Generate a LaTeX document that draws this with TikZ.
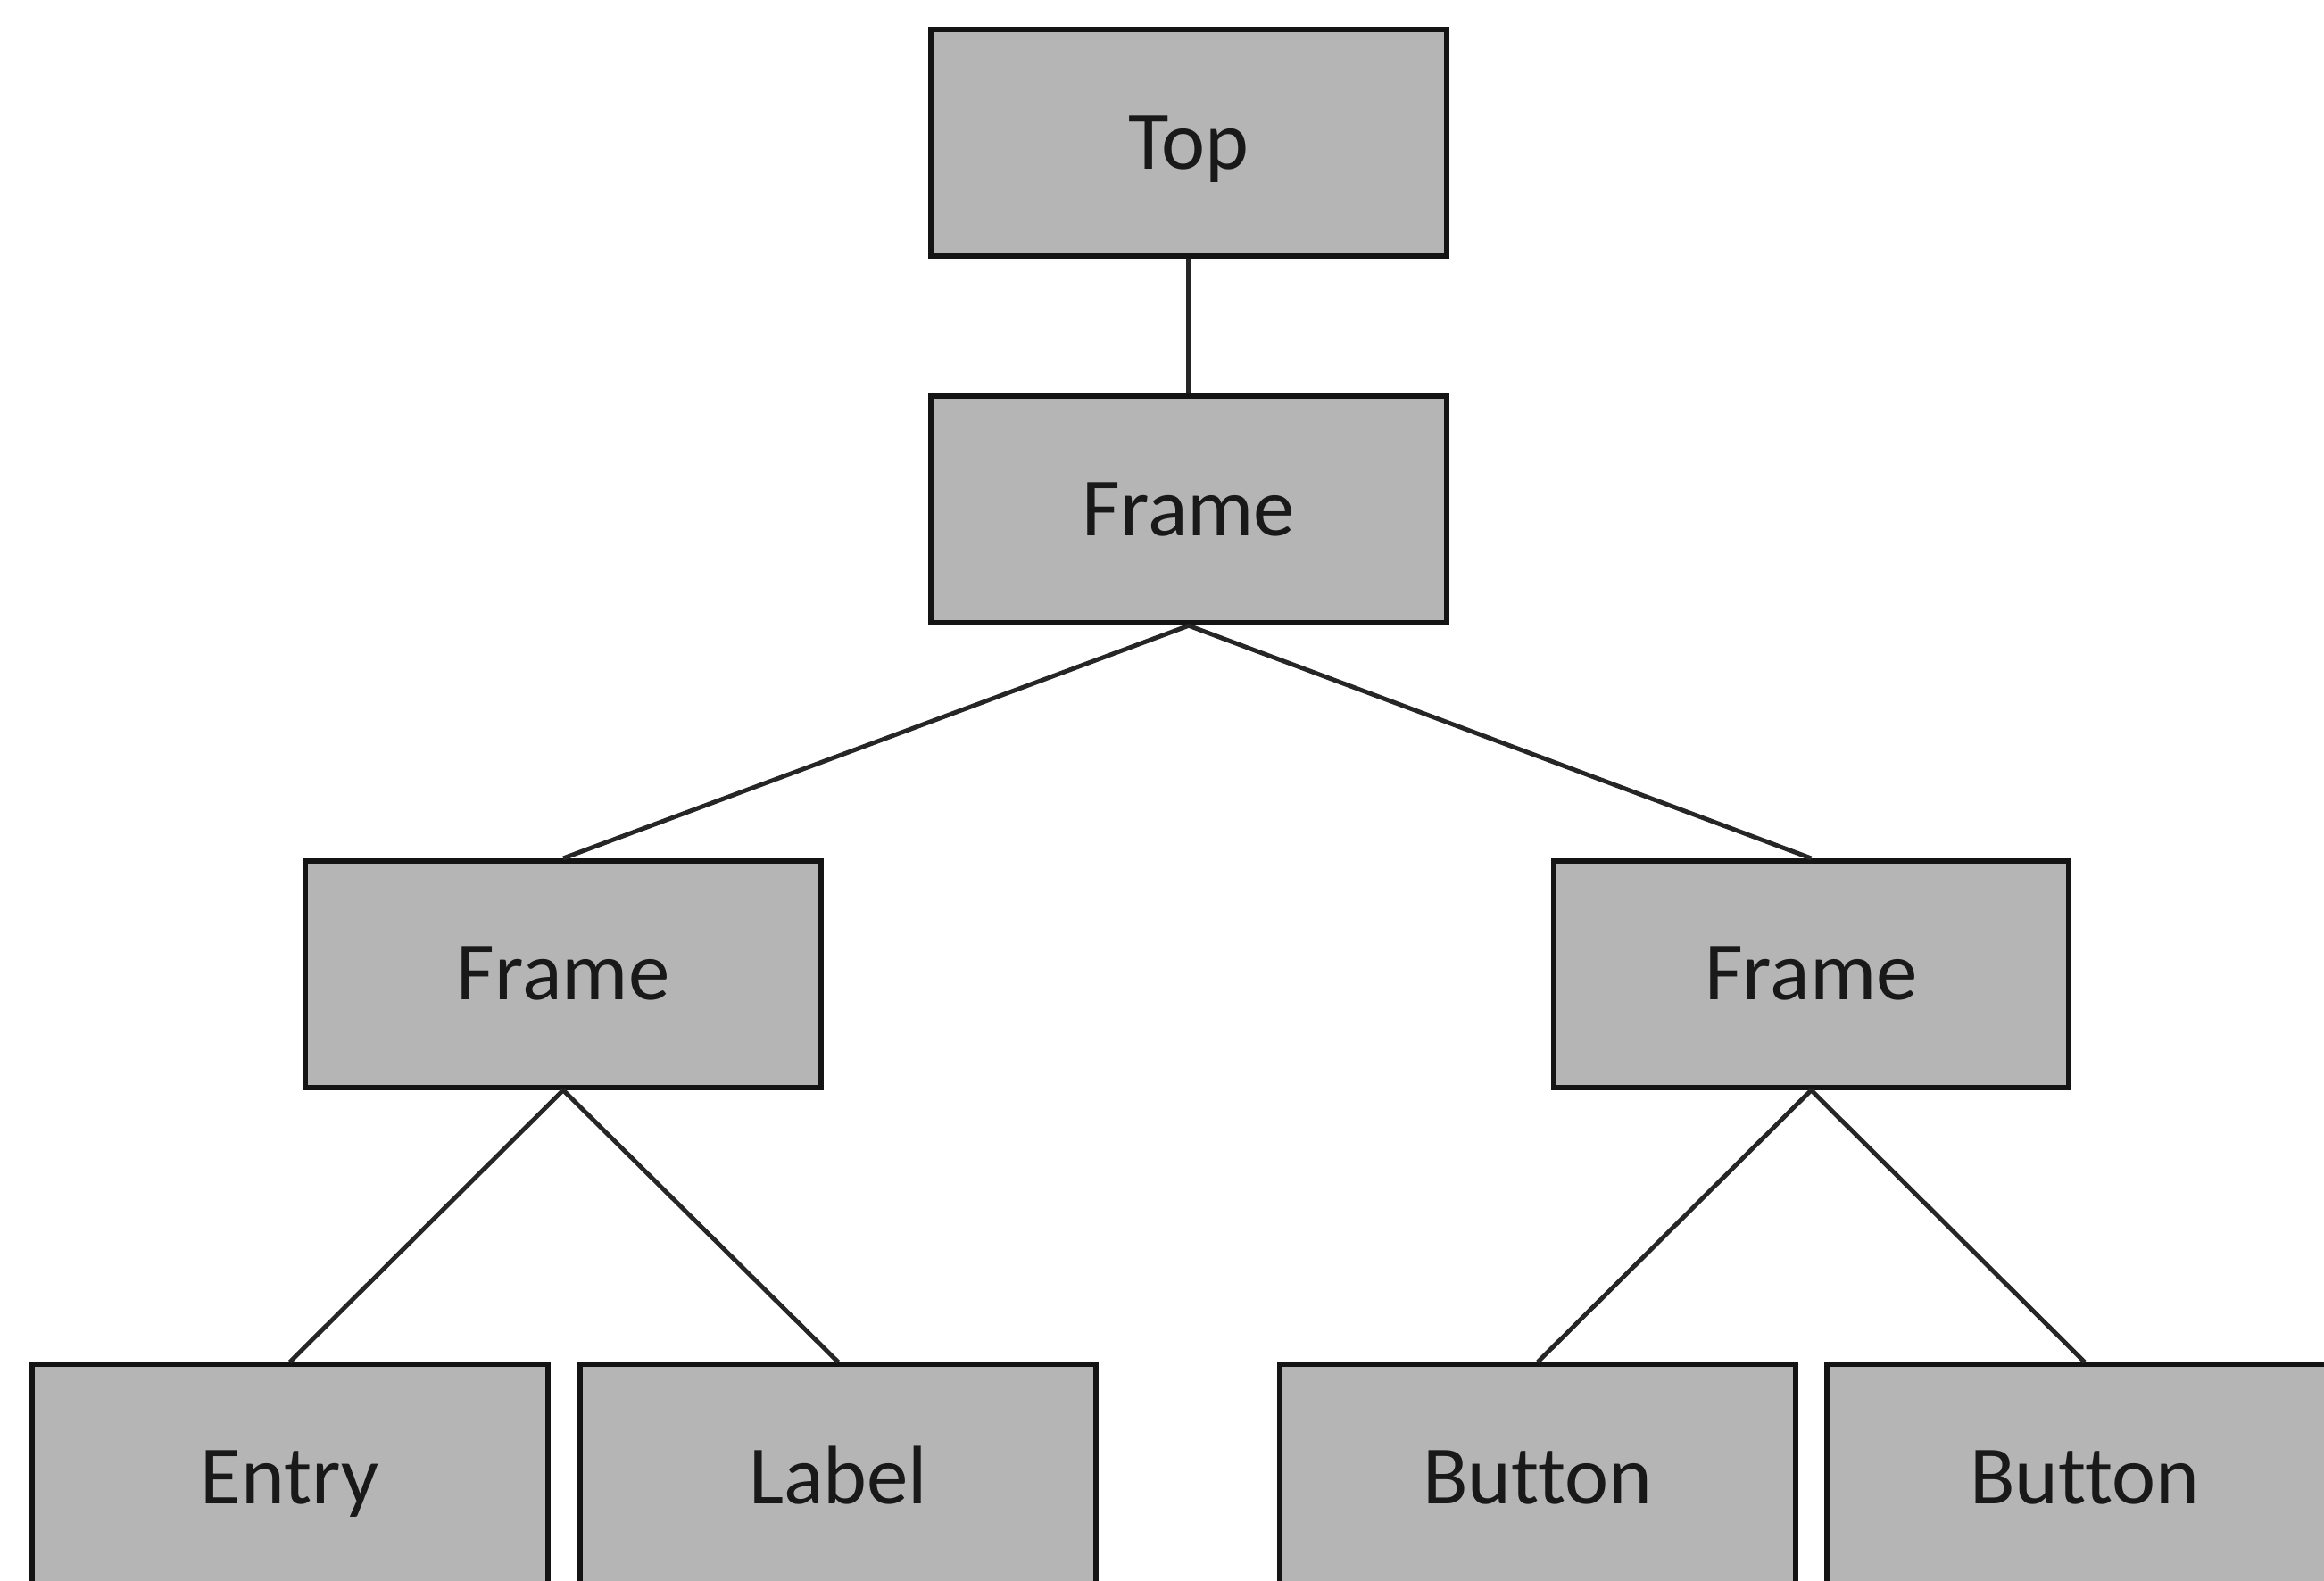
\documentclass[tikz,border=0pt]{standalone}
\usepackage{fontspec}
\setmainfont{Carlito}[Ligatures=NoCommon]
\begin{document}
\begin{tikzpicture}[x=1pt,y=-1pt,
  wbox/.style={draw=black!92, line width=3.5pt, fill=black!29, minimum width=348pt, minimum height=153pt, inner sep=0pt, text height=35pt, text depth=0pt, font=\fontsize{56}{60}\selectfont, text=black!90},
  conn/.style={draw=black!85, line width=3pt}]
\useasboundingbox (0,0) rectangle (1568,1067);
\clip (0,0) rectangle (1568,1067);
\node[wbox] (top) at (802,96.5) {Top};
\node[wbox] (f0) at (802,344) {Frame};
\node[wbox] (fl) at (380,657.5) {Frame};
\node[wbox] (fr) at (1222,657.5) {Frame};
\node[wbox] (entry) at (195.5,997.5) {Entry};
\node[wbox] (label) at (565.5,997.5) {Label};
\node[wbox] (b1) at (1037.5,997.5) {Button};
\node[wbox] (b2) at (1406.5,997.5) {Button};
\draw[conn] (top.south) -- (f0.north);
\draw[conn] (f0.south) -- (fl.north);
\draw[conn] (f0.south) -- (fr.north);
\draw[conn] (fl.south) -- (entry.north);
\draw[conn] (fl.south) -- (label.north);
\draw[conn] (fr.south) -- (b1.north);
\draw[conn] (fr.south) -- (b2.north);
\end{tikzpicture}
\end{document}
